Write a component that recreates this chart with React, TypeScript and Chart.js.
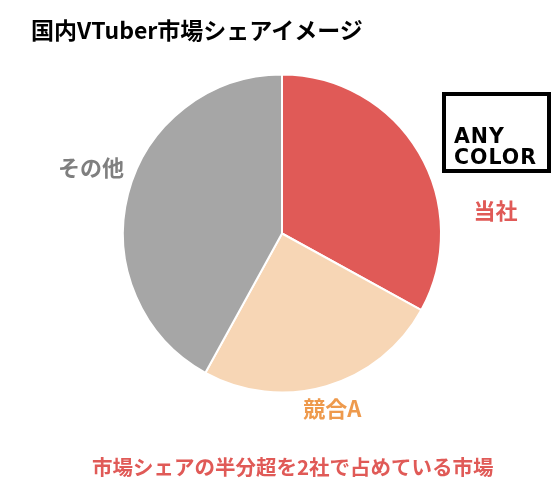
import React, { useEffect, useRef } from "react";
import { Chart, registerables } from "chart.js";

Chart.register(...registerables);

// Market share image (percent)
const categories = ["当社", "競合A", "その他"];
const shares = [33, 25, 42];

const sliceColors = ["#E05A57", "#F7D6B5", "#A6A6A6"];
const labelColors = ["#E05A57", "#EE9A4D", "#7F7F7F"];
// where each slice label sits: angle (deg, clockwise from top) and distance in radii
const labelAnchors = [
  { angle: 84, dist: 1.35 },
  { angle: 164, dist: 1.145 },
  { angle: 289, dist: 1.27 },
];

const FONT = '"Noto Sans CJK JP", "Noto Sans", sans-serif';

const sliceLabelPlugin = {
  id: "sliceLabels",
  afterDatasetsDraw(chart: any) {
    const meta = chart.getDatasetMeta(0);
    const ctx = chart.ctx;
    ctx.save();
    ctx.textAlign = "center";
    ctx.textBaseline = "middle";
    ctx.font = `bold 22px ${FONT}`;
    meta.data.forEach((arc: any, i: number) => {
      const { x, y, outerRadius } = arc.getProps(["x", "y", "outerRadius"], true);
      const a = (labelAnchors[i].angle * Math.PI) / 180;
      const r = outerRadius * labelAnchors[i].dist;
      ctx.fillStyle = labelColors[i];
      ctx.fillText(categories[i], x + r * Math.sin(a), y - r * Math.cos(a));
    });
    ctx.restore();
  },
};

export default function App() {
  const canvasRef = useRef<HTMLCanvasElement>(null);

  useEffect(() => {
    if (!canvasRef.current) return;
    const chart = new Chart(canvasRef.current, {
      type: "pie",
      data: {
        labels: categories,
        datasets: [
          {
            data: shares,
            backgroundColor: sliceColors,
            borderColor: "#FFFFFF",
            borderWidth: 2,
          },
        ],
      },
      options: {
        responsive: false,
        animation: false,
        layout: { padding: { left: 122, right: 117, top: 73.5, bottom: 90.5 } },
        plugins: {
          legend: { display: false },
          tooltip: { enabled: false },
        },
      },
      plugins: [sliceLabelPlugin],
    });
    return () => chart.destroy();
  }, []);

  return (
    <div
      style={{
        position: "fixed",
        left: 0,
        top: 0,
        width: 559,
        height: 484,
        background: "#FFFFFF",
        fontFamily: FONT,
      }}
    >
      <canvas ref={canvasRef} width={559} height={484} style={{ position: "absolute", left: 0, top: 0 }} />
      <div
        style={{
          position: "absolute",
          left: 31,
          top: 14,
          fontSize: 23,
          fontWeight: 700,
          color: "#000000",
          whiteSpace: "nowrap",
          lineHeight: "30px",
        }}
      >
        国内VTuber市場シェアイメージ
      </div>
      <div
        style={{
          position: "absolute",
          left: 442,
          top: 92,
          width: 101,
          height: 73,
          border: "4px solid #000000",
          fontFamily: '"DejaVu Sans", sans-serif',
          fontWeight: 700,
          fontSize: 20.5,
          lineHeight: "21px",
          letterSpacing: 1,
          color: "#000000",
        }}
      >
        <div style={{ position: "absolute", left: 8, top: 30 }}>ANY</div>
        <div style={{ position: "absolute", left: 8, top: 51 }}>COLOR</div>
      </div>
      <div
        style={{
          position: "absolute",
          left: 92,
          top: 452,
          fontSize: 20.5,
          fontWeight: 700,
          color: "#E05A57",
          whiteSpace: "nowrap",
          lineHeight: "28px",
        }}
      >
        市場シェアの半分超を2社で占めている市場
      </div>
    </div>
  );
}
